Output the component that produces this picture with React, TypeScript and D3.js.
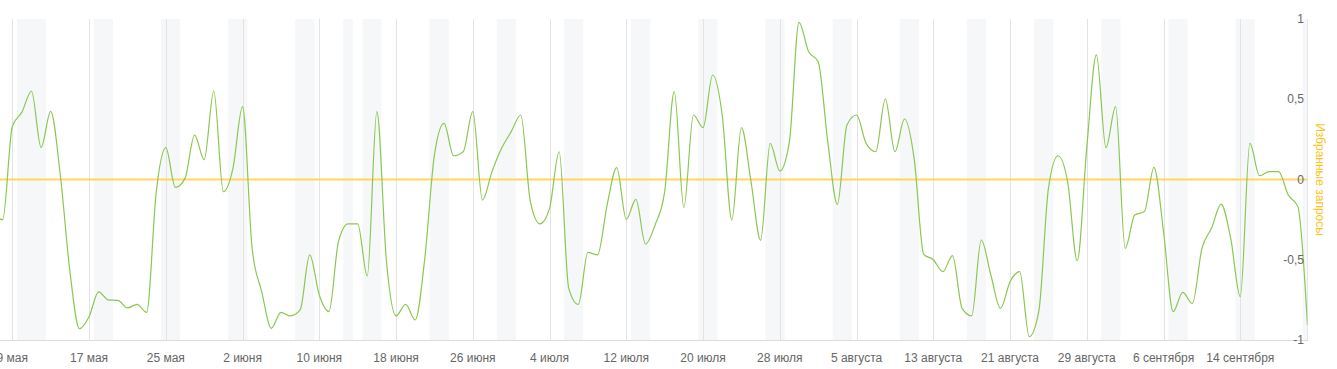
import React from "react";
import * as d3 from "d3";

// Series: daily values starting 2019-05-07
const seriesStart = "2019-05-07";
const searchValues: number[] = [
  -0.22, -0.25, 0.33, 0.42, 0.55, 0.2, 0.425, 0.03, -0.57, -0.93,
  -0.855, -0.7, -0.75, -0.753, -0.8, -0.778, -0.828, -0.08, 0.198, -0.049,
  0.007, 0.277, 0.123, 0.551, -0.076, 0.07, 0.454, -0.43, -0.7, -0.927,
  -0.828, -0.85, -0.813, -0.47, -0.72, -0.823, -0.387, -0.277, -0.277, -0.601,
  0.423, -0.51, -0.85, -0.778, -0.875, -0.49, 0.153, 0.35, 0.148, 0.173,
  0.423, -0.128, 0.049, 0.194, 0.298, 0.402, -0.138, -0.277, -0.18, 0.173,
  -0.678, -0.778, -0.454, -0.47, -0.159, 0.074, -0.248, -0.124, -0.402, -0.283,
  -0.076, 0.547, -0.175, 0.402, 0.323, 0.651, 0.4, -0.252, 0.323, -0.013,
  -0.379, 0.225, 0.053, 0.236, 0.979, 0.797, 0.734, 0.236, -0.155, 0.34,
  0.402, 0.225, 0.173, 0.502, 0.173, 0.377, 0.132, -0.466, -0.5, -0.574,
  -0.474, -0.803, -0.85, -0.377, -0.595, -0.803, -0.637, -0.574, -0.979, -0.82,
  -0.055, 0.148, -0.013, -0.506, 0.2, 0.776, 0.198, 0.454, -0.429, -0.221,
  -0.2, 0.076, -0.325, -0.823, -0.703, -0.773, -0.429, -0.304, -0.153, -0.367,
  -0.73, 0.225, 0.024, 0.049, 0.049, -0.097, -0.169, -0.907,
];

// Weekend / holiday days (shaded)
const weekendDays: string[] = [
  "2019-05-10", "2019-05-11", "2019-05-12", "2019-05-18", "2019-05-19",
  "2019-05-25", "2019-05-26", "2019-06-01", "2019-06-02", "2019-06-08",
  "2019-06-09", "2019-06-13", "2019-06-15", "2019-06-16", "2019-06-22",
  "2019-06-23", "2019-06-29", "2019-06-30", "2019-07-06", "2019-07-07",
  "2019-07-13", "2019-07-14", "2019-07-20", "2019-07-21", "2019-07-27",
  "2019-07-28", "2019-08-03", "2019-08-04", "2019-08-10", "2019-08-11",
  "2019-08-17", "2019-08-18", "2019-08-24", "2019-08-25", "2019-08-31",
  "2019-09-01", "2019-09-07", "2019-09-08", "2019-09-14", "2019-09-15",
  "2019-09-21",
];

const xTickDates: string[] = [
  "2019-05-09", "2019-05-17", "2019-05-25", "2019-06-02", "2019-06-10",
  "2019-06-18", "2019-06-26", "2019-07-04", "2019-07-12", "2019-07-20",
  "2019-07-28", "2019-08-05", "2019-08-13", "2019-08-21", "2019-08-29",
  "2019-09-06", "2019-09-14",
];
const xTickLabels: string[] = [
  "9 мая", "17 мая", "25 мая", "2 июня", "10 июня", "18 июня", "26 июня",
  "4 июля", "12 июля", "20 июля", "28 июля", "5 августа", "13 августа",
  "21 августа", "29 августа", "6 сентября", "14 сентября",
];
const yTicks: number[] = [1, 0.5, 0, -0.5, -1];
const yTickLabels: string[] = ["1", "0,5", "0", "-0,5", "-1"];
const favoriteLevel = 0;
const axisTitle = "Избранные запросы";

const W = 1337;
const H = 369;
const plotLeft = 0;
const plotRight = 1307.5;
const plotTop = 19;
const plotBottom = 340;
const DAY = 86400000;

const parse = (s: string) => new Date(s + "T00:00:00Z");

export default function App() {
  const x = d3
    .scaleUtc()
    .domain([parse("2019-05-09"), parse("2019-09-14")])
    .range([12.3, 1240.3]);
  const y = d3.scaleLinear().domain([-1, 1]).range([plotBottom, plotTop]);

  const start = parse(seriesStart).getTime();
  const points = searchValues.map((v, i) => ({ date: new Date(start + i * DAY), v }));

  const line = d3
    .line<{ date: Date; v: number }>()
    .x((d) => x(d.date))
    .y((d) => y(d.v))
    .curve(d3.curveMonotoneX);

  // merge consecutive shaded days into runs
  const runs: { from: number; to: number }[] = [];
  weekendDays
    .map((s) => parse(s).getTime())
    .forEach((t) => {
      const last = runs[runs.length - 1];
      if (last && t - last.to === DAY) last.to = t;
      else runs.push({ from: t, to: t });
    });

  const font = "Arial, 'Liberation Sans', sans-serif";
  const y0 = y(favoriteLevel);

  return (
    <svg
      width={W}
      height={H}
      style={{ position: "absolute", left: 0, top: 0, background: "#fff" }}
    >
      <defs>
        <clipPath id="plotClip">
          <rect x={plotLeft} y={0} width={plotRight - plotLeft} height={H} />
        </clipPath>
      </defs>
      <g clipPath="url(#plotClip)">
        {runs.map((r, i) => {
          const x1 = x(new Date(r.from - DAY / 2));
          const x2 = x(new Date(r.to + DAY / 2));
          return (
            <rect
              key={i}
              x={x1}
              y={plotTop}
              width={x2 - x1}
              height={plotBottom - plotTop}
              fill="#f5f7f9"
            />
          );
        })}
      </g>
      {xTickDates.map((s, i) => {
        const xx = Math.round(x(parse(s))) + 0.5;
        return (
          <line
            key={i}
            x1={xx}
            x2={xx}
            y1={plotTop}
            y2={plotBottom}
            stroke="#e3e3e3"
            strokeWidth={1}
          />
        );
      })}
      <line x1={plotRight} x2={plotRight} y1={plotTop} y2={plotBottom} stroke="#e6e6e6" />
      <line x1={0} x2={plotRight + 0.5} y1={plotBottom + 0.5} y2={plotBottom + 0.5} stroke="#dcdcdc" />
      <g clipPath="url(#plotClip)">
        <line
          x1={plotLeft}
          x2={plotRight}
          y1={y0}
          y2={y0}
          stroke="#ffd75e"
          strokeWidth={2}
        />
        <path d={line(points) || ""} fill="none" stroke="#8cc751" strokeWidth={1.2} />
      </g>
      {xTickDates.map((s, i) => (
        <text
          key={i}
          x={x(parse(s))}
          y={362}
          textAnchor="middle"
          fontFamily={font}
          fontSize={12}
          fill="#666"
        >
          {xTickLabels[i]}
        </text>
      ))}
      {yTicks.map((t, i) => (
        <text
          key={i}
          x={1304}
          y={y(t) + 4}
          textAnchor="end"
          fontFamily={font}
          fontSize={12}
          fill="#666"
        >
          {yTickLabels[i]}
        </text>
      ))}
      <text
        transform={`translate(1316, ${y0}) rotate(90)`}
        textAnchor="middle"
        fontFamily={font}
        fontSize={12}
        fill="#ffc21a"
      >
        {axisTitle}
      </text>
    </svg>
  );
}
